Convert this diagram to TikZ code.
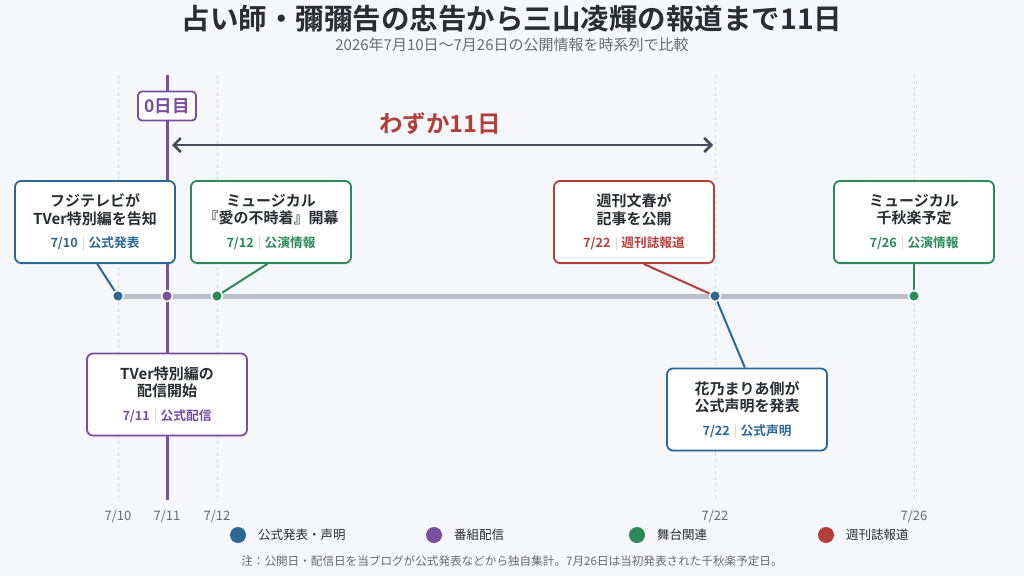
\documentclass[tikz,border=0pt]{standalone}
\usepackage{fontspec}
\setmainfont{Noto Sans CJK JP}[BoldFont={Noto Sans CJK JP Bold}]
\usetikzlibrary{arrows.meta,shadows}
\definecolor{bgc}{HTML}{F5F7FB}
\definecolor{blu}{HTML}{2C6896}
\definecolor{pur}{HTML}{7A4E9E}
\definecolor{grn}{HTML}{2A8A58}
\definecolor{rd}{HTML}{B33F3A}
\definecolor{ink}{HTML}{2A2D33}
\definecolor{axisc}{HTML}{B9BFC9}
\definecolor{guide}{HTML}{D5D9E0}
\definecolor{subc}{HTML}{666B73}
\definecolor{arrc}{HTML}{434B5A}
\newcommand{\evtag}[3]{{\color{#1}\fontsize{12.7}{15}\selectfont\bfseries #2\hspace{5pt}{\color{guide}\rule[-2pt]{0.8pt}{13pt}}\hspace{5pt}#3}}

\begin{document}
\begin{tikzpicture}[x=1pt,y=-1pt,
    ev/.style={draw=#1, line width=1.8pt, fill=white, rounded corners=6pt,
      minimum width=160pt, minimum height=82pt, align=center, text=ink,
      font=\fontsize{15}{17.5}\selectfont\bfseries,
      drop shadow={opacity=0.10, shadow xshift=0pt, shadow yshift=-2pt}},
    dot/.style={circle, fill=#1, draw=white, line width=1.5pt, minimum size=11pt, inner sep=0pt},
    link/.style={#1, line width=2pt},
    guideline/.style={guide, dash pattern=on 3pt off 3pt, line width=0.6pt},
    datelbl/.style={text=subc, font=\fontsize{13}{15}\selectfont},
    legdot/.style={circle, fill=#1, minimum size=16pt, inner sep=0pt},
    leglbl/.style={anchor=west, inner sep=0pt, text=ink, font=\fontsize{12.5}{14}\selectfont}]
    \fill[bgc] (0,0) rectangle (1024,576);
    \useasboundingbox (0,0) rectangle (1024,576);
    \node[text=ink, font=\fontsize{28.5}{32}\selectfont\bfseries] (title) at (512,19) {占い師・彌彌告の忠告から三山凌輝の報道まで11日};
    \node[text=subc, font=\fontsize{15}{17}\selectfont] (subtitle) at (512,45) {2026年7月10日～7月26日の公開情報を時系列で比較};
    \foreach \gx in {118,217,715,914} \draw[guideline] (\gx,75) -- (\gx,500);
    \draw[pur, line width=3pt] (167,75) -- (167,500);
    \node[draw=pur, line width=1.8pt, fill=white, rounded corners=4pt, text=pur, minimum width=58pt, minimum height=29pt, font=\fontsize{17.5}{19}\selectfont\bfseries] (day0) at (167,106) {0日目};
    \coordinate (span0) at (172,145);
    \coordinate (span1) at (713,145);
    \draw[arrc, line width=2.5pt, {Straight Barb[length=7pt,width=14pt]}-{Straight Barb[length=7pt,width=14pt]}] (span0) -- (span1);
    \node[text=rd, font=\fontsize{23.5}{26}\selectfont\bfseries] (span) at (440,124) {わずか11日};
    \draw[axisc, line width=5pt] (118,296) -- (914,296);
    \node[ev=blu] (b1) at (95,222) {フジテレビが\\TVer特別編を告知\\[6pt]\evtag{blu}{7/10}{公式発表}};
    \node[ev=grn] (b2) at (271,222) {ミュージカル\\『愛の不時着』開幕\\[6pt]\evtag{grn}{7/12}{公演情報}};
    \node[ev=rd] (b3) at (634,222) {週刊文春が\\記事を公開\\[6pt]\evtag{rd}{7/22}{週刊誌報道}};
    \node[ev=grn] (b4) at (914,222) {ミュージカル\\千秋楽予定\\[6pt]\evtag{grn}{7/26}{公演情報}};
    \node[ev=pur] (b5) at (167,394.5) {TVer特別編の\\配信開始\\[6pt]\evtag{pur}{7/11}{公式配信}};
    \node[ev=blu] (b6) at (747,409.5) {花乃まりあ側が\\公式声明を発表\\[6pt]\evtag{blu}{7/22}{公式声明}};
    \coordinate (d10) at (118,296);
    \coordinate (d11) at (167,296);
    \coordinate (d12) at (217,296);
    \coordinate (d22) at (715,296);
    \coordinate (d26) at (914,296);
    \draw[link=blu] (b1.273) -- (d10);
    \draw[link=grn] (b2.265) -- (d12);
    \draw[link=rd] (b3.283) -- (d22);
    \draw[link=grn] (b4.south) -- (d26);
    \draw[link=blu] (b6.93) -- (d22);
    \node[dot=blu] (p10) at (d10) {};
    \node[dot=pur] (p11) at (d11) {};
    \node[dot=grn] (p12) at (d12) {};
    \node[dot=blu] (p22) at (d22) {};
    \node[dot=grn] (p26) at (d26) {};
    \node[datelbl] (t10) at (118,516) {7/10};
    \node[datelbl] (t11) at (167,516) {7/11};
    \node[datelbl] (t12) at (217,516) {7/12};
    \node[datelbl] (t22) at (715,516) {7/22};
    \node[datelbl] (t26) at (914,516) {7/26};
    \node[legdot=blu] (l1) at (238,535) {};
    \node[leglbl] at (258,535) {公式発表・声明};
    \node[legdot=pur] (l2) at (434,535) {};
    \node[leglbl] at (454,535) {番組配信};
    \node[legdot=grn] (l3) at (637,535) {};
    \node[leglbl] at (657,535) {舞台関連};
    \node[legdot=rd] (l4) at (826,535) {};
    \node[leglbl] at (846,535) {週刊誌報道};
    \node[text=subc, font=\fontsize{11.6}{13}\selectfont] (note) at (512,561) {注：公開日・配信日を当ブログが公式発表などから独自集計。7月26日は当初発表された千秋楽予定日。};
\end{tikzpicture}
\end{document}
